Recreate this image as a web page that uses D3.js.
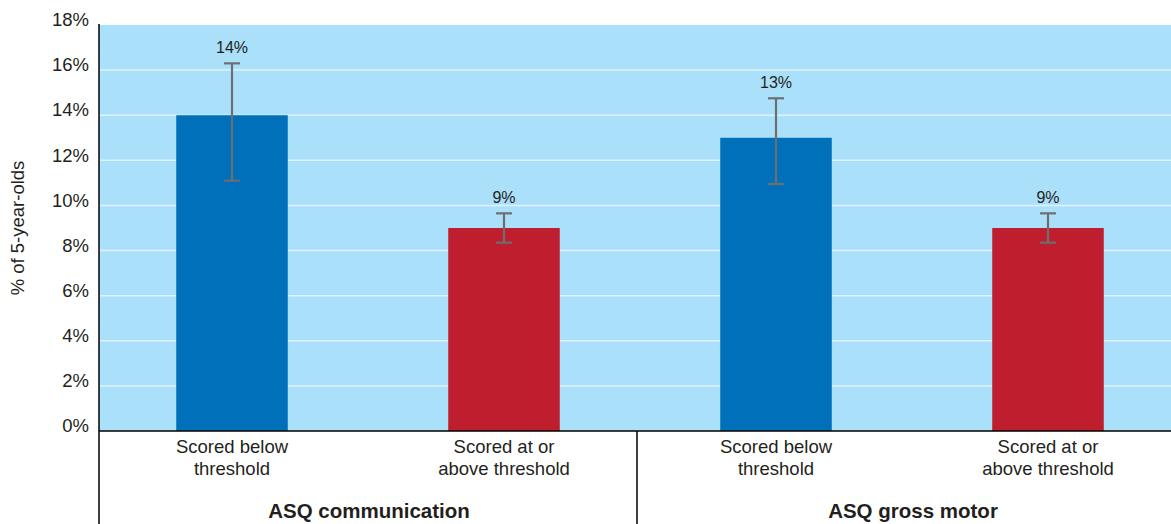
<!DOCTYPE html>
<html lang="en">
<head>
    <meta charset="UTF-8">
    <title>ASQ scores - % of 5-year-olds</title>
    <script src="https://d3js.org/d3.v7.min.js"></script>
    <style>
        body { margin: 0; background: #fff; }
        text { font-family: "Liberation Sans", Arial, sans-serif; fill: #231f20; }
    </style>
</head>
<body>
    <script type="text/javascript">
        var width = 1171, height = 524;

        // data
        var groups = ["ASQ communication", "ASQ gross motor"];
        var categories = ["Scored below threshold", "Scored at or above threshold"];
        var barLabels = [["Scored below", "threshold"], ["Scored at or", "above threshold"]];
        var values = [14, 9, 13, 9];
        var lowerCI = [11.1, 8.35, 10.95, 8.35];
        var upperCI = [16.3, 9.65, 14.75, 9.65];
        var yTicks = [0, 2, 4, 6, 8, 10, 12, 14, 16, 18];
        var barColors = ["#0070bb", "#be1e2d"];

        var rows = [];
        groups.forEach(function (g, gi) {
            categories.forEach(function (c, ci) {
                var i = gi * categories.length + ci;
                rows.push({ id: i, group: g, cat: ci, value: values[i], lo: lowerCI[i], hi: upperCI[i] });
            });
        });

        // note: "top" is taken by window.top, so plot edges get their own names
        var plotLeft = 99, plotRight = 1171, plotTop = 25, plotBottom = 431;

        var y = d3.scaleLinear().domain([0, 18]).range([plotBottom, plotTop]);
        var x = d3.scaleBand().domain(rows.map(function (d) { return d.id; }))
                  .range([96, 1184]).paddingInner(0.59).paddingOuter(0.295);
        var xGroup = d3.scaleBand().domain(groups).range([plotLeft, 1175]);

        var svg = d3.select("body").append("svg")
                    .attr("width", width).attr("height", height);

        // plot background
        svg.append("rect")
           .attr("x", plotLeft).attr("y", plotTop)
           .attr("width", plotRight - plotLeft).attr("height", plotBottom - plotTop)
           .attr("fill", "#abe0fa");

        // gridlines
        svg.append("g")
           .selectAll("line").data(yTicks.filter(function (t) { return t > 0 && t < 18; }))
           .enter().append("line")
           .attr("x1", plotLeft).attr("x2", plotRight)
           .attr("y1", function (d) { return y(d); }).attr("y2", function (d) { return y(d); })
           .attr("stroke", "#dff2fd").attr("stroke-width", 1.5);

        // y axis labels (baseline sits on the gridline)
        var yAxis = d3.axisLeft(y).tickValues(yTicks)
                      .tickFormat(function (d) { return d + "%"; })
                      .tickSize(0).tickPadding(10);
        var ya = svg.append("g").attr("transform", "translate(" + plotLeft + ",0)").call(yAxis);
        ya.select(".domain").remove();
        ya.selectAll("text")
          .style("font-family", "'Liberation Sans', Arial, sans-serif")
          .style("font-size", "18.5px").attr("fill", "#231f20").attr("dy", "0.04em");

        svg.append("text")
           .attr("transform", "translate(24," + ((plotTop + plotBottom) / 2) + ") rotate(-90)")
           .attr("text-anchor", "middle")
           .style("font-size", "18.5px")
           .text("% of 5-year-olds");

        // bars
        var cx = function (d) { return x(d.id) + x.bandwidth() / 2; };
        svg.append("g").selectAll("rect").data(rows).enter().append("rect")
           .attr("x", function (d) { return x(d.id); })
           .attr("y", function (d) { return y(d.value); })
           .attr("width", x.bandwidth())
           .attr("height", function (d) { return y(0) - y(d.value); })
           .attr("fill", function (d) { return barColors[d.cat]; });

        // error bars
        var err = svg.append("g").attr("stroke", "#6d6e70").attr("stroke-width", 2.2);
        err.selectAll(".v").data(rows).enter().append("line")
           .attr("x1", cx).attr("x2", cx)
           .attr("y1", function (d) { return y(d.lo); }).attr("y2", function (d) { return y(d.hi); });
        err.selectAll(".capHi").data(rows).enter().append("line")
           .attr("x1", function (d) { return cx(d) - 8; }).attr("x2", function (d) { return cx(d) + 8; })
           .attr("y1", function (d) { return y(d.hi); }).attr("y2", function (d) { return y(d.hi); });
        err.selectAll(".capLo").data(rows).enter().append("line")
           .attr("x1", function (d) { return cx(d) - 8; }).attr("x2", function (d) { return cx(d) + 8; })
           .attr("y1", function (d) { return y(d.lo); }).attr("y2", function (d) { return y(d.lo); });

        // value labels
        svg.append("g").selectAll("text").data(rows).enter().append("text")
           .attr("x", cx).attr("y", function (d) { return y(d.hi) - 10; })
           .attr("text-anchor", "middle")
           .style("font-size", "16px")
           .text(function (d) { return d.value + "%"; });

        // axis lines
        svg.append("line").attr("x1", plotLeft).attr("x2", plotLeft).attr("y1", plotTop - 1).attr("y2", height)
           .attr("stroke", "#000").attr("stroke-width", 1.5);
        svg.append("line").attr("x1", plotLeft).attr("x2", plotRight).attr("y1", plotBottom).attr("y2", plotBottom)
           .attr("stroke", "#000").attr("stroke-width", 1.5);
        svg.append("line").attr("x1", xGroup(groups[1])).attr("x2", xGroup(groups[1]))
           .attr("y1", plotBottom).attr("y2", height)
           .attr("stroke", "#000").attr("stroke-width", 1.5);

        // category labels
        var cl = svg.append("g").selectAll("text").data(rows).enter().append("text")
           .attr("text-anchor", "middle")
           .style("font-size", "18.5px");
        cl.each(function (d) {
            var t = d3.select(this);
            barLabels[d.cat].forEach(function (line, li) {
                t.append("tspan").attr("x", cx(d)).attr("y", 453 + li * 22).text(line);
            });
        });

        // group labels, centred under their bars
        svg.append("g").selectAll("text").data(groups).enter().append("text")
           .attr("x", function (g) {
               return d3.mean(rows.filter(function (r) { return r.group === g; }), cx) + 1;
           })
           .attr("y", 518)
           .attr("text-anchor", "middle")
           .style("font-size", "20.5px").style("font-weight", "bold")
           .text(function (g) { return g; });
    </script>
</body>
</html>
